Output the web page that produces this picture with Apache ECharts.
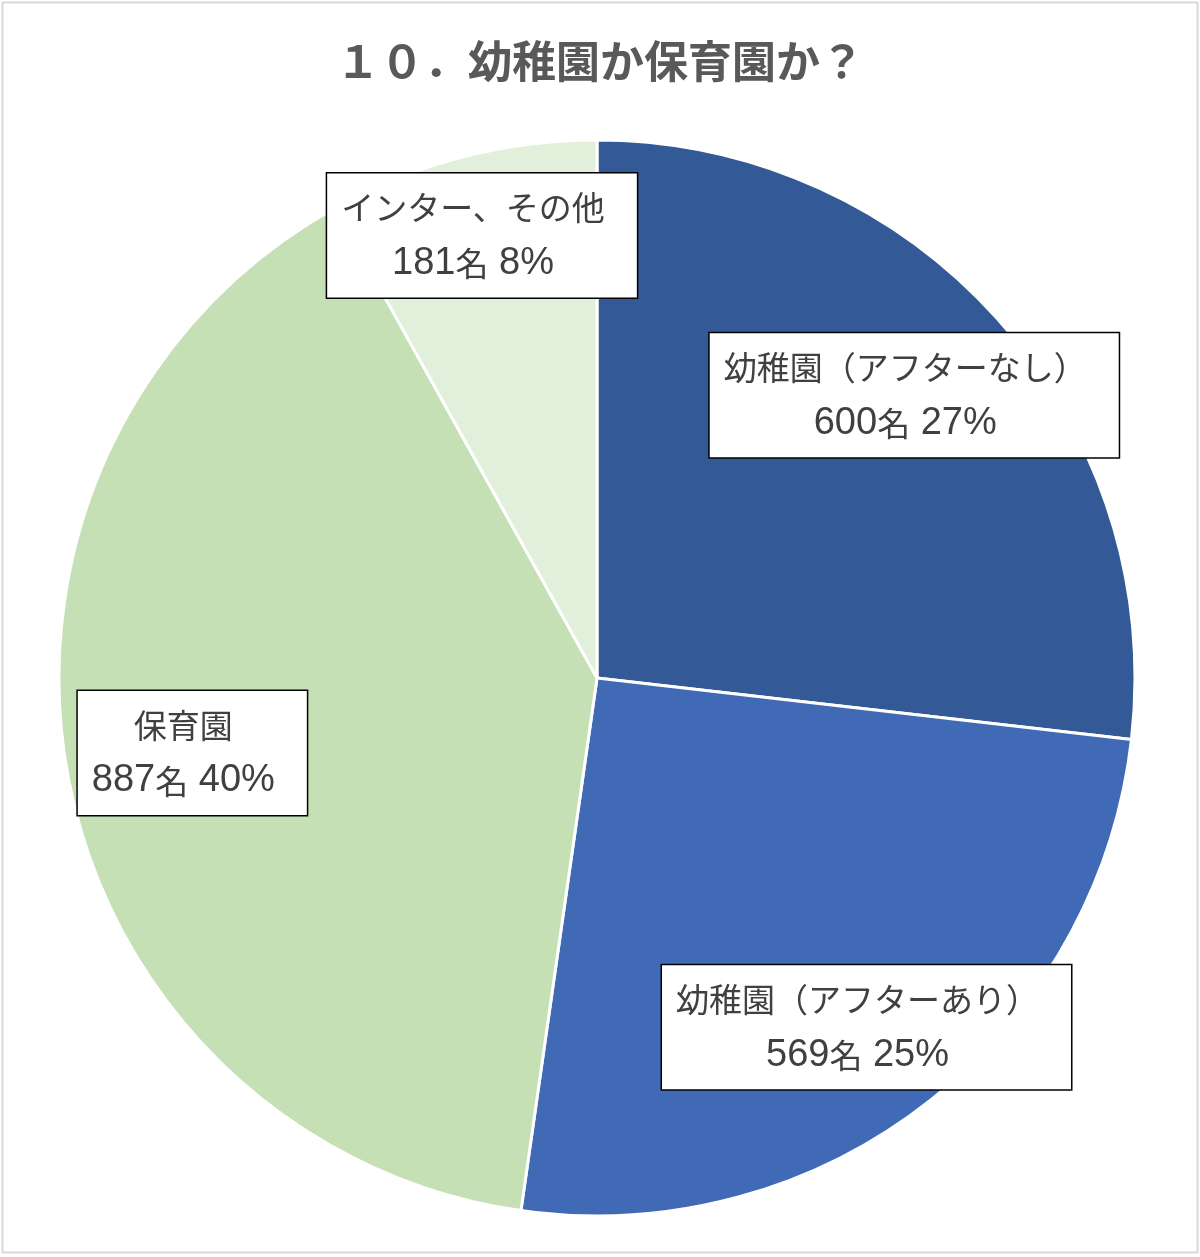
<!DOCTYPE html>
<html>
<head>
<meta charset="utf-8">
<script src="https://cdn.jsdelivr.net/npm/echarts@6/dist/echarts.min.js"></script>
<style>
html,body{margin:0;padding:0;background:#fff;}
#chart{width:1200px;height:1257px;}
</style>
</head>
<body>
<div id="chart"></div>
<script>
const titleText = '１０．幼稚園か保育園か？';
const categories = ['幼稚園（アフターなし）', '幼稚園（アフターあり）', '保育園', 'インター、その他'];
const values = [600, 569, 887, 181];
const percentLabels = ['27%', '25%', '40%', '8%'];

const colors = ['#335A96', '#416AB6', '#C5E0B4', '#E2EFDA'];
const labelRadial = [0.79, 0.82, 0.765, 0.85];
const CX = 597, CY = 678, R = 538;

const total = values.reduce((a, b) => a + b, 0);
const midAngles = [];
let acc = 0;
values.forEach(v => { midAngles.push((acc + v / 2) / total * 2 * Math.PI); acc += v; });

const CJK = 'Noto Sans CJK JP';
const LAT = 'Liberation Sans';

const chart = echarts.init(document.getElementById('chart'));
chart.setOption({
  backgroundColor: '#fff',
  animation: false,
  title: {
    text: titleText,
    left: 'center',
    top: 34,
    textStyle: { fontFamily: CJK, fontSize: 44, fontWeight: 'bold', color: '#595959' }
  },
  graphic: [{
    type: 'rect',
    shape: { x: 2.5, y: 2.5, width: 1195, height: 1250 },
    style: { fill: 'none', stroke: '#d9d9d9', lineWidth: 2 },
    silent: true
  }],
  series: [{
    type: 'pie',
    center: [CX, CY],
    radius: [0, R],
    startAngle: 90,
    clockwise: true,
    data: categories.map((c, i) => ({ name: c, value: values[i], itemStyle: { color: colors[i] } })),
    itemStyle: { borderColor: '#fff', borderWidth: 3 },
    label: {
      show: true,
      position: 'inside',
      formatter: p => '{a|' + p.name + '}\n{n|' + p.value + '}{a|名}{n| ' + percentLabels[p.dataIndex] + '}',
      color: '#404040',
      backgroundColor: '#fff',
      borderColor: '#000',
      borderWidth: 1.5,
      padding: [6, 32, 6, 14],
      align: 'center',
      rich: {
        a: { fontFamily: CJK, fontSize: 33, lineHeight: 56, color: '#404040' },
        n: { fontFamily: LAT, fontSize: 38, lineHeight: 56, color: '#404040' }
      }
    },
    labelLine: { show: false },
    labelLayout: function (params) {
      const i = params.dataIndex;
      const a = midAngles[i];
      const k = labelRadial[i];
      return {
        x: CX + k * R * Math.sin(a),
        y: CY - k * R * Math.cos(a),
        align: 'center',
        verticalAlign: 'middle'
      };
    }
  }]
});
</script>
</body>
</html>
